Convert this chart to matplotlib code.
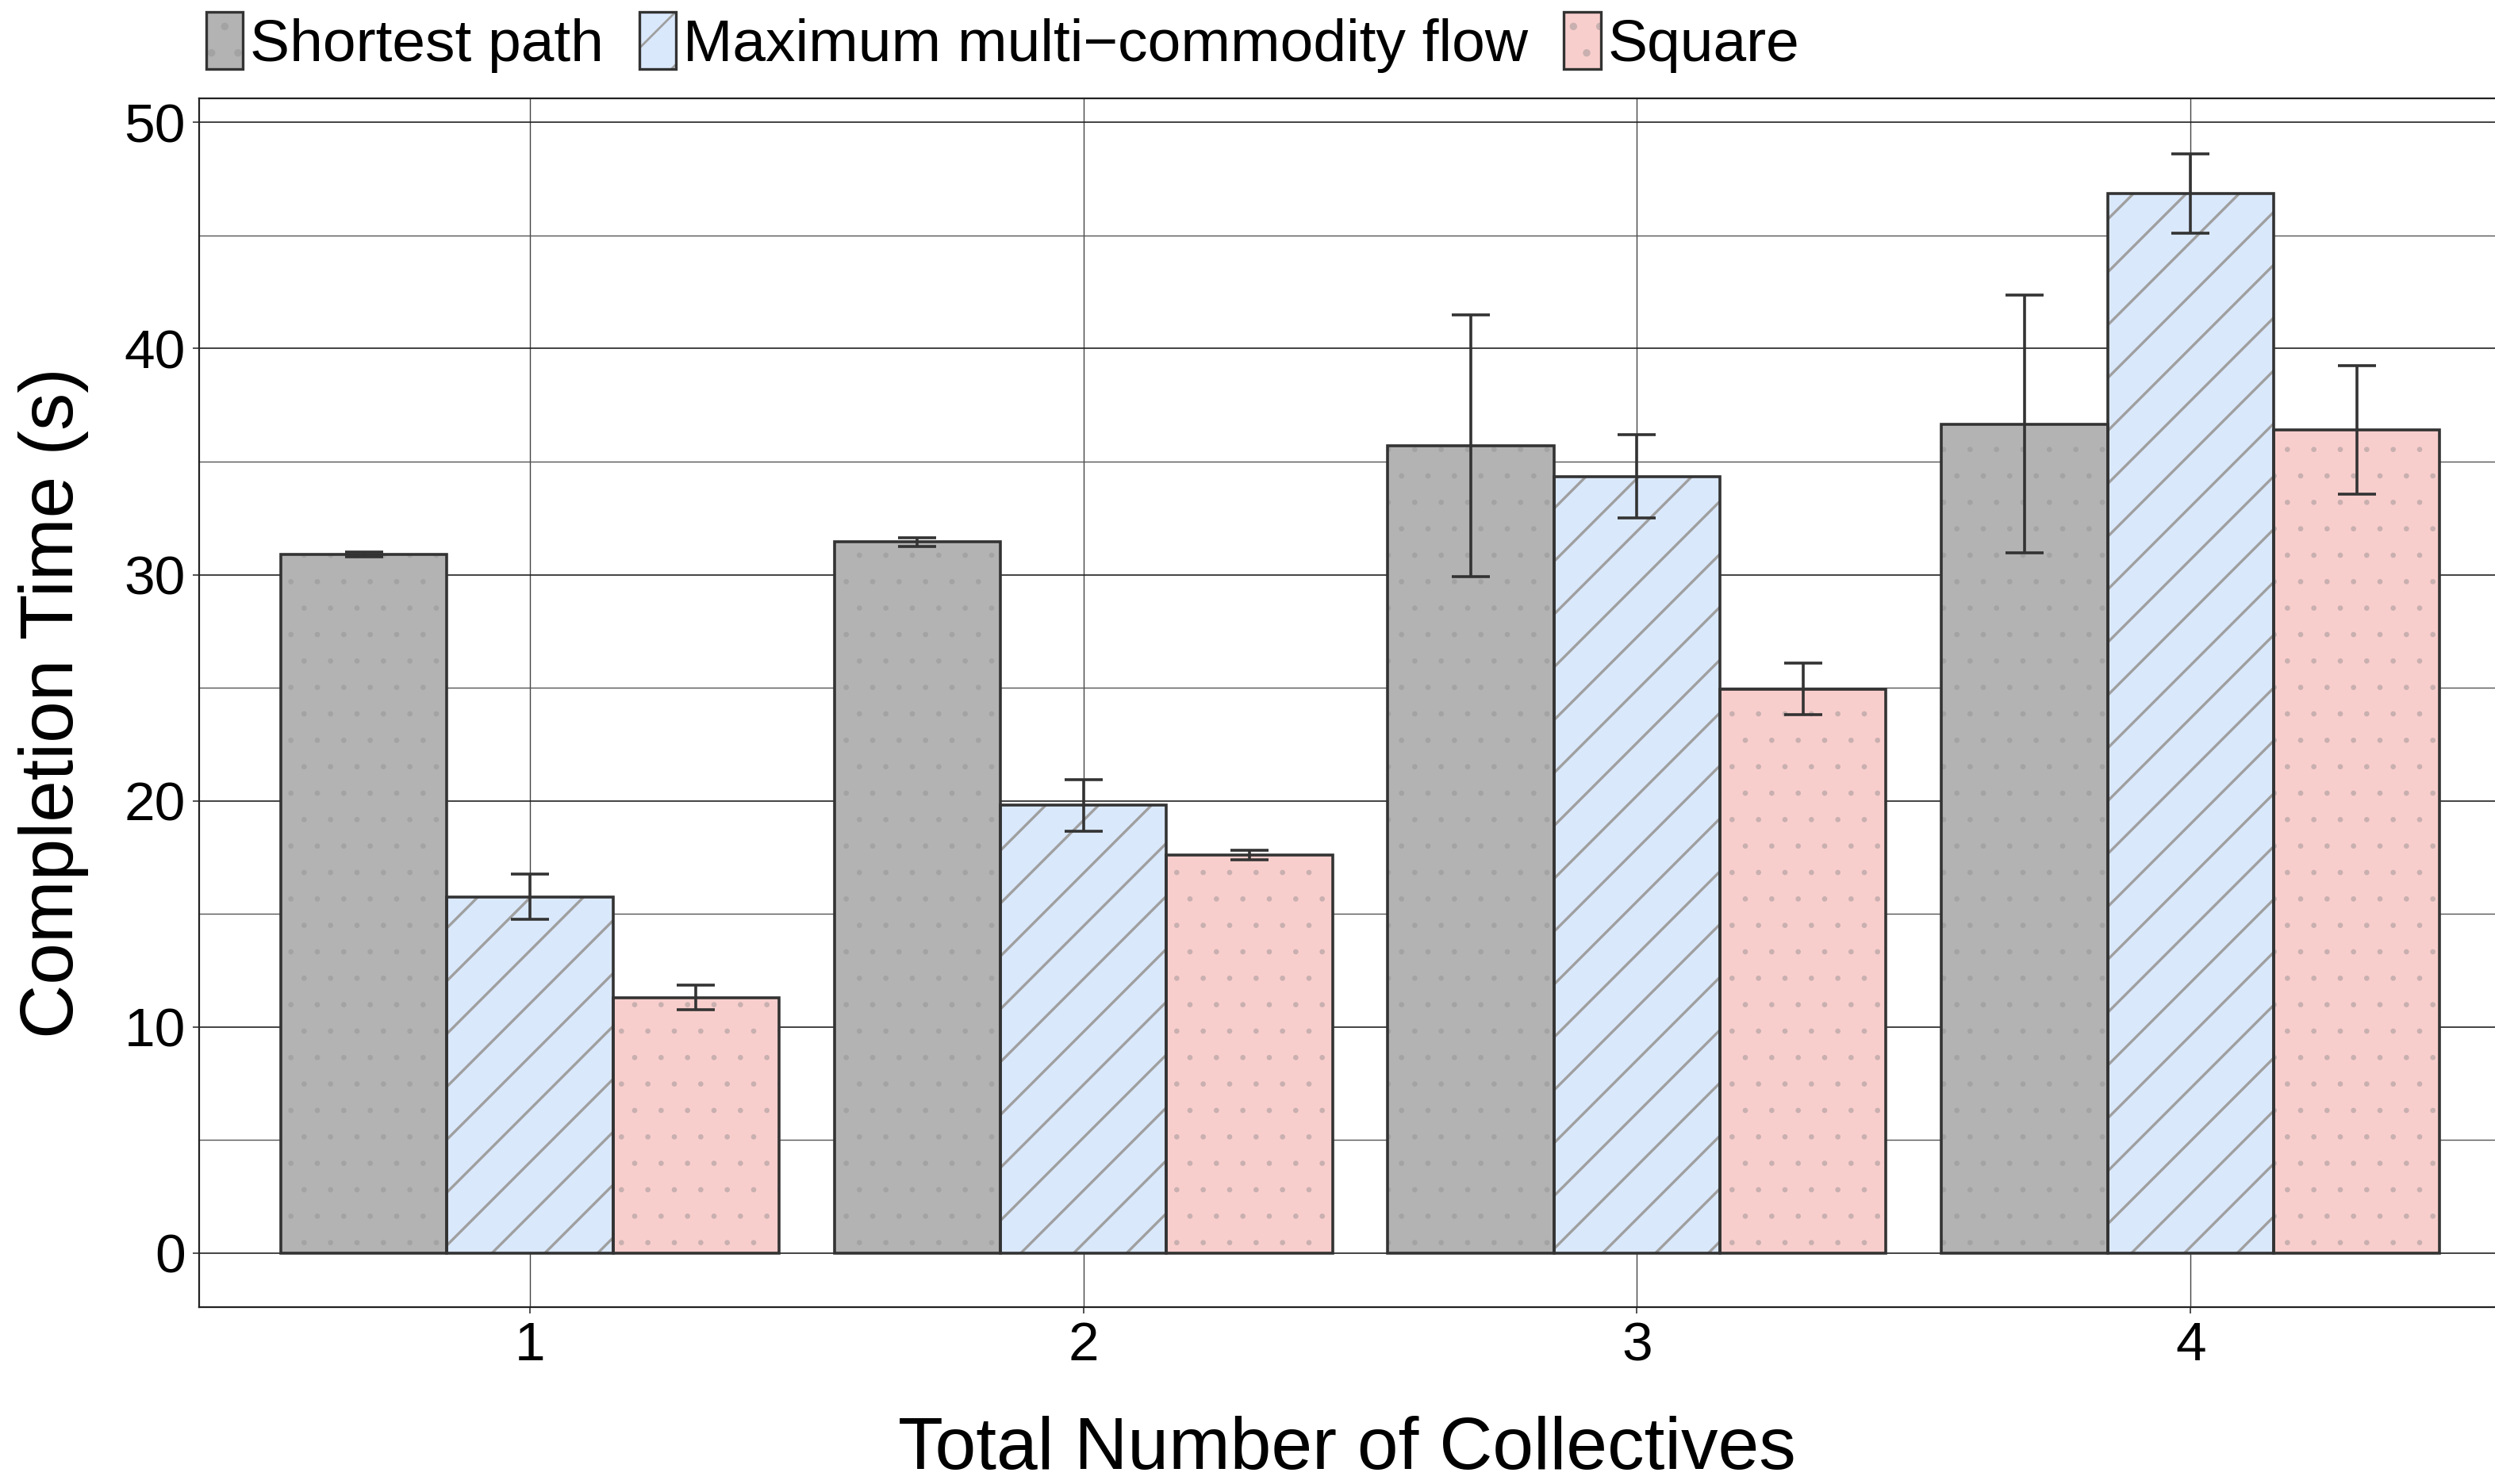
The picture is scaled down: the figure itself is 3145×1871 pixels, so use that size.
import numpy as np
import matplotlib
matplotlib.use('Agg')
import matplotlib.pyplot as plt
from matplotlib.patches import Patch
from matplotlib.legend_handler import HandlerTuple
from matplotlib.ticker import MultipleLocator

# data
collectives = ['1', '2', '3', '4']
series = ['Shortest path', 'Maximum multi\u2212commodity flow', 'Square']
shortest_path = [30.9, 31.45, 35.7, 36.65]
shortest_path_err = [0.1, 0.2, 5.8, 5.7]
max_flow = [15.75, 19.8, 34.35, 46.85]
max_flow_err = [1.0, 1.15, 1.85, 1.75]
square = [11.3, 17.6, 24.95, 36.4]
square_err = [0.55, 0.2, 1.15, 2.85]

colors = ['#B3B3B3', '#DAE8FC', '#F8CECC']
hatches = ['.', '/', '.']
hatch_cols = ['#a3a3a3', '#9f9f9f', '#c9b0b0']
hatch_lws = [0.0, 1.2, 0.0]
edge = '#333333'

plt.rcParams['font.family'] = ['Liberation Sans', 'DejaVu Sans']

fig = plt.figure(figsize=(15.725, 9.355), dpi=200)
ax = fig.add_axes([0.0797, 0.119, 0.9203, 0.8145])

x = np.arange(1, len(collectives) + 1)
w = 0.3
values = [shortest_path, max_flow, square]
errors = [shortest_path_err, max_flow_err, square_err]
handles = []
for i, (vals, errs) in enumerate(zip(values, errors)):
    pos = x + (i - 1) * w
    with plt.rc_context({'hatch.linewidth': hatch_lws[i]}):
        ax.bar(pos, vals, w, color=colors[i], hatch=hatches[i], edgecolor=hatch_cols[i],
               linewidth=0, zorder=3)
        h1 = Patch(facecolor=colors[i], hatch=hatches[i], edgecolor=hatch_cols[i], linewidth=0)
    ax.bar(pos, vals, w, fill=False, edgecolor=edge, linewidth=1.3, zorder=4)
    ax.errorbar(pos, vals, yerr=errs, fmt='none', ecolor=edge, elinewidth=1.3,
                capsize=8.5, capthick=1.3, zorder=5)
    h2 = Patch(fill=False, edgecolor=edge, linewidth=1.2)
    handles.append((h1, h2))

ax.set_xlim(0.402, 4.55)
ax.set_ylim(-2.4, 51.05)
ax.set_xticks(x)
ax.set_xticklabels(collectives)
ax.yaxis.set_major_locator(MultipleLocator(10))
ax.yaxis.set_minor_locator(MultipleLocator(5))
ax.xaxis.grid(which='major', color='#444444', linewidth=0.5, zorder=0)
ax.yaxis.grid(which='major', color='#222222', linewidth=0.6, zorder=0)
ax.yaxis.grid(which='minor', color='#555555', linewidth=0.5, zorder=0)
ax.set_axisbelow(True)
ax.tick_params(axis='both', which='major', labelsize=25, length=3, width=0.6,
               pad=3, color='#333333')
ax.tick_params(axis='y', which='minor', length=0)
for s in ['left', 'bottom', 'top']:
    ax.spines[s].set_linewidth(0.8)
    ax.spines[s].set_color('#222222')
ax.spines['right'].set_visible(False)

ax.set_ylabel('Completion Time (s)', fontsize=34, labelpad=16)
ax.set_xlabel('Total Number of Collectives', fontsize=33.5, labelpad=20)

fig.legend(handles, series, handler_map={tuple: HandlerTuple(ndivide=1)},
           loc='upper left', bbox_to_anchor=(0.073, 1.008), ncol=3, frameon=False,
           fontsize=27, handlelength=0.62, handleheight=1.1, handletextpad=0.12,
           columnspacing=0.6, borderaxespad=0)

fig.savefig('out.png', dpi=200)
